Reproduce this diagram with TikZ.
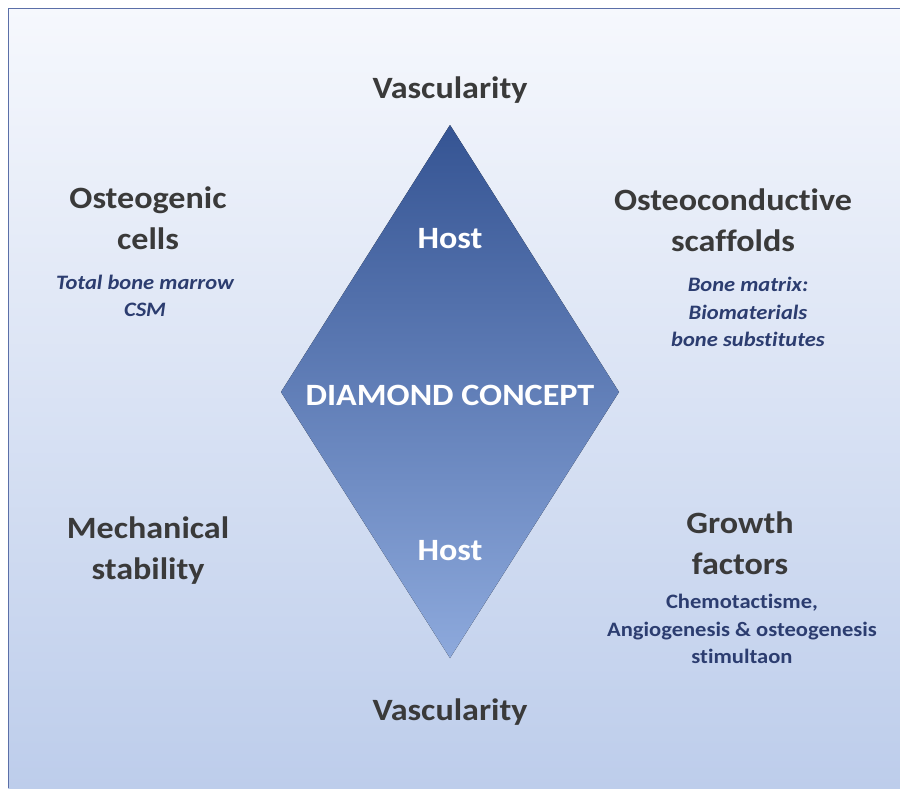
\documentclass[tikz,border=0pt]{standalone}
\usepackage{fontspec}
\setmainfont{Carlito}[FakeStretch=1.1, Ligatures=NoCommon]
\usepackage{tikz}
\usetikzlibrary{shapes}

\definecolor{bgtop}{HTML}{F6F8FD}
\definecolor{bgbot}{HTML}{BDCDEB}
\definecolor{frame}{HTML}{5B6FA8}
\definecolor{dtop}{HTML}{355493}
\definecolor{dmid}{HTML}{4270C8}
\definecolor{dbot}{HTML}{8DA9DC}
\definecolor{head}{HTML}{3A3A3A}
\definecolor{sub}{HTML}{2C3D70}

\begin{document}
\begin{tikzpicture}[
		x=1pt, y=-1pt,
		H/.style = {text=head, align=center, inner sep=0pt,% bold headings
			font=\fontsize{31}{41}\selectfont\bfseries},
		S/.style = {text=sub, align=center, inner sep=0pt,% small notes
			font=\fontsize{20.5}{27.5}\selectfont\bfseries#1},
		S/.default=\itshape, % by default notes are italic
		W/.style = {text=white, inner sep=0pt,% text on the diamond
			font=\fontsize{31}{36}\selectfont\bfseries},
		]
		\useasboundingbox (0,0) rectangle (900,788);
		\fill[top color=bgtop, bottom color=bgbot] (8,8) rectangle (900,788);
		\draw[frame, line width=1.5pt] (8.5,788) -- (8.5,8.5) -- (900,8.5);
		% the diamond
		\fill[top color=dtop, middle color=dmid, bottom color=dbot]
			(450,125) -- (619,392) -- (450,658) -- (281,392) -- cycle;
		\node[W] (hostT) at (450,239) {Host};
		\node[W] (concept) at (450,395) {DIAMOND CONCEPT};
		\node[W] (hostB) at (450,551) {Host};
		% labels round it
		\node[H] (vascT) at (450,90) {Vascularity};
		\node[H] (vascB) at (450,712) {Vascularity};
		\node[H] (cells) at (148,218) {Osteogenic\\cells};
		\node[S] (marrow) at (145,296) {Total bone marrow\\CSM};
		\node[H] (scaffold) at (733,220) {Osteoconductive\\scaffolds};
		\node[S] (matrix) at (748,312) {Bone matrix:\\Biomaterials\\bone substitutes};
		\node[H] (stab) at (148,551) {Mechanical\\stability};
		\node[H] (growth) at (740,543) {Growth\\factors};
		\node[S=\upshape] (chemo) at (742,629) {Chemotactisme,\\Angiogenesis \& osteogenesis\\stimultaon};
	\end{tikzpicture}
\end{document}
